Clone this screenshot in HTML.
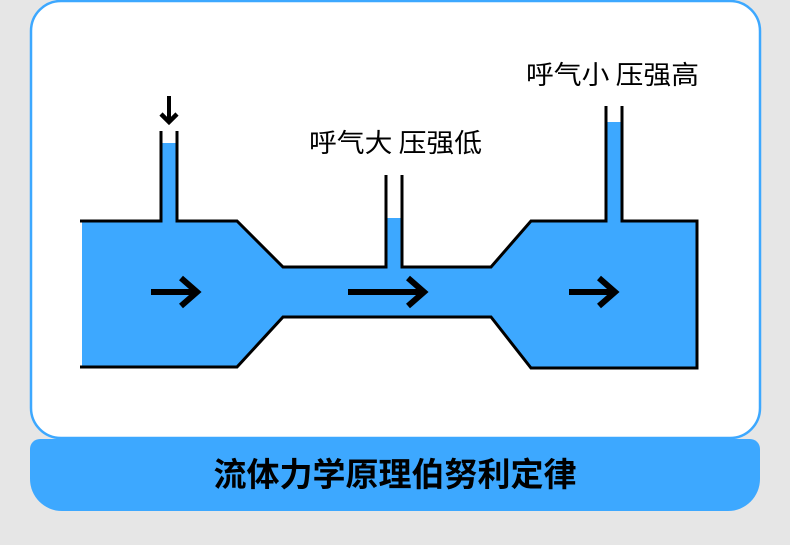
<!DOCTYPE html>
<html><head><meta charset="utf-8"><style>
html,body{margin:0;padding:0;background:#e6e6e6;}
body{width:790px;height:545px;position:relative;overflow:hidden;font-family:"Liberation Sans","Noto Sans CJK SC",sans-serif;}
</style></head><body>
<svg width="790" height="545" viewBox="0 0 790 545" style="position:absolute;left:0;top:0">
<rect x="31" y="1" width="729" height="437" rx="30" fill="#fff" stroke="#3da8ff" stroke-width="2.5"/>
<path d="M40 439 H750 a10 10 0 0 1 10 10 V479 a32 32 0 0 1 -32 32 H62 a32 32 0 0 1 -32 -32 V449 a10 10 0 0 1 10 -10Z" fill="#3da8ff"/>
<text x="395" y="486" text-anchor="middle" font-size="33" font-weight="bold" font-family="Noto Sans CJK SC, sans-serif" fill="#000">流体力学原理伯努利定律</text>
<polygon points="82,221 237,221 283,267 491,267 531,221 697,221 697,368 531,368 491,317 283,317 237,367 82,367" fill="#3da8ff"/>
<rect x="161" y="143" width="16" height="80" fill="#3da8ff"/>
<rect x="386" y="218" width="16" height="50" fill="#3da8ff"/>
<rect x="606" y="122" width="16" height="101" fill="#3da8ff"/>
<g fill="none" stroke="#000" stroke-width="3">
<polyline points="80,221 161,221 161,131"/>
<polyline points="177,131 177,221 237,221 283,267 386,267 386,175"/>
<polyline points="402,175 402,267 491,267 531,221 606,221 606,106"/>
<polyline points="622,106 622,221 697,221 697,368 531,368 491,317 283,317 237,367 80,367"/>
</g>
<g fill="none" stroke="#000" stroke-width="6">
<line x1="151" y1="292" x2="196" y2="292"/><polyline points="181,278 197,292 181,306"/>
<line x1="348" y1="292" x2="423" y2="292"/><polyline points="408,278 424,292 408,306"/>
<line x1="569" y1="292" x2="614" y2="292"/><polyline points="599,278 615,292 599,306"/>
<line x1="169" y1="96" x2="169" y2="122" stroke-width="4"/><polyline points="161,114 169,122 177,114" stroke-width="4.5"/>
</g>
<text x="309" y="152" font-size="26" fill="#000" font-family="Noto Sans CJK SC, sans-serif" textLength="173" lengthAdjust="spacingAndGlyphs">呼气大 压强低</text>
<text x="526" y="84" font-size="26" fill="#000" font-family="Noto Sans CJK SC, sans-serif" textLength="173" lengthAdjust="spacingAndGlyphs">呼气小 压强高</text>
</svg>
</body></html>
